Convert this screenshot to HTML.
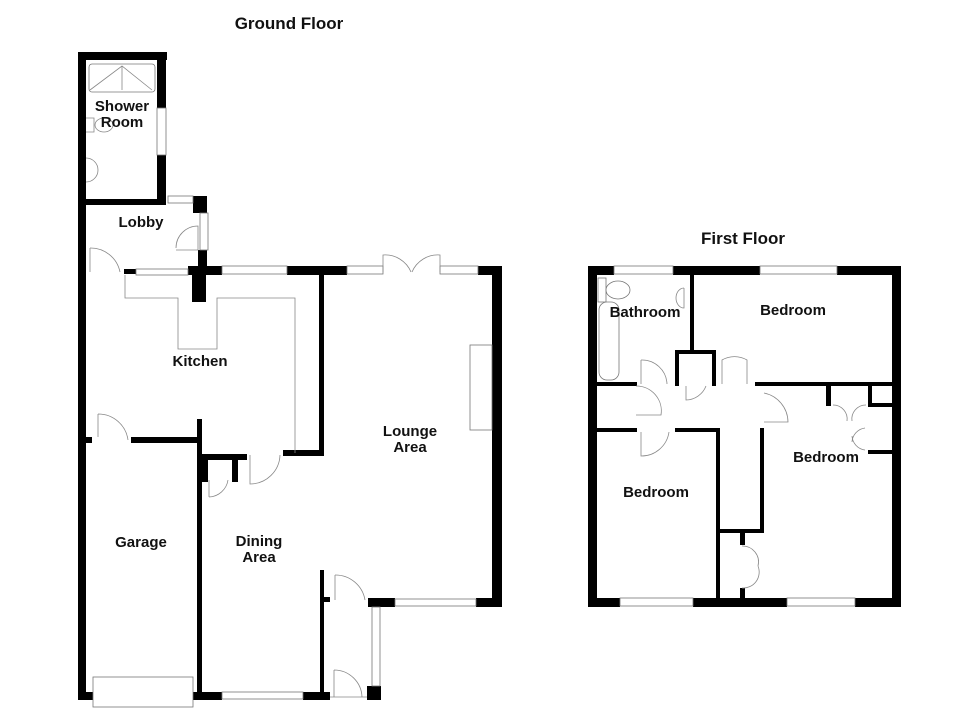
<!DOCTYPE html>
<html><head><style>
html,body{margin:0;padding:0;background:#fff;}
svg{display:block}
text{font-family:"Liberation Sans",Arial,sans-serif;font-weight:bold;fill:#111;text-anchor:middle}
</style></head><body>
<svg width="980" height="712" viewBox="0 0 980 712" xmlns="http://www.w3.org/2000/svg">
<text x="289" y="29" font-size="17">Ground Floor</text>
<text x="743" y="244" font-size="17">First Floor</text>

<g fill="#000">
<rect x="78" y="52" width="8" height="648"/>
<rect x="78" y="52" width="89" height="8"/>
<rect x="157" y="52" width="9" height="56"/>
<rect x="157" y="155" width="9" height="50"/>
<rect x="86" y="199" width="80" height="6"/>
<rect x="193" y="196" width="14" height="17"/>
<rect x="198" y="250" width="9" height="25"/>
<rect x="124" y="269" width="12" height="5"/>
<rect x="188" y="266" width="34" height="9"/>
<rect x="192" y="266" width="14" height="36"/>
<rect x="287" y="266" width="60" height="9"/>
<rect x="478" y="266" width="24" height="9"/>
<rect x="492" y="266" width="10" height="341"/>
<rect x="319" y="270" width="5" height="186"/>
<rect x="283" y="450" width="41" height="6"/>
<rect x="86" y="437" width="6" height="6"/>
<rect x="131" y="437" width="70" height="6"/>
<rect x="197" y="419" width="5" height="281"/>
<rect x="202" y="454" width="45" height="6"/>
<rect x="202" y="454" width="6" height="28"/>
<rect x="232" y="454" width="6" height="28"/>
<rect x="320" y="570" width="4" height="130"/>
<rect x="320" y="597" width="10" height="5"/>
<rect x="368" y="598" width="27" height="9"/>
<rect x="476" y="598" width="26" height="9"/>
<rect x="78" y="692" width="15" height="8"/>
<rect x="193" y="692" width="29" height="8"/>
<rect x="303" y="692" width="27" height="8"/>
<rect x="367" y="686" width="14" height="14"/>

<rect x="588" y="266" width="9" height="341"/>
<rect x="588" y="266" width="26" height="9"/>
<rect x="673" y="266" width="87" height="9"/>
<rect x="837" y="266" width="64" height="9"/>
<rect x="892" y="266" width="9" height="341"/>
<rect x="588" y="598" width="32" height="9"/>
<rect x="693" y="598" width="94" height="9"/>
<rect x="855" y="598" width="46" height="9"/>
<rect x="690" y="270" width="4" height="80"/>
<rect x="675" y="350" width="41" height="4"/>
<rect x="675" y="350" width="4" height="36"/>
<rect x="712" y="350" width="4" height="36"/>
<rect x="597" y="382" width="40" height="4"/>
<rect x="755" y="382" width="137" height="4"/>
<rect x="826" y="382" width="5" height="24"/>
<rect x="868" y="382" width="4" height="24"/>
<rect x="868" y="403" width="24" height="4"/>
<rect x="868" y="450" width="24" height="4"/>
<rect x="597" y="428" width="40" height="4"/>
<rect x="675" y="428" width="45" height="4"/>
<rect x="716" y="428" width="4" height="170"/>
<rect x="760" y="428" width="4" height="105"/>
<rect x="720" y="529" width="44" height="4"/>
<rect x="740" y="533" width="5" height="12"/>
<rect x="740" y="588" width="5" height="10"/>
</g>

<g fill="#fff" stroke="#777" stroke-width="0.8">
<rect x="157" y="108" width="9" height="47"/>
<rect x="168" y="196" width="25" height="7"/>
<rect x="136" y="269" width="52" height="6"/>
<rect x="222" y="266" width="65" height="8"/>
<rect x="347" y="266" width="36" height="8"/>
<rect x="440" y="266" width="38" height="8"/>
<rect x="395" y="599" width="81" height="7"/>
<rect x="372" y="607" width="8" height="79"/>
<rect x="222" y="692" width="81" height="7"/>
<rect x="93" y="677" width="100" height="30"/>
<rect x="614" y="266" width="59" height="8"/>
<rect x="760" y="266" width="77" height="8"/>
<rect x="620" y="598" width="73" height="8"/>
<rect x="787" y="598" width="68" height="8"/>
<rect x="200" y="213" width="8" height="37"/>
<rect x="89" y="64" width="66" height="28" rx="3"/>
<rect x="470" y="345" width="22" height="85"/>
<rect x="598" y="278" width="8" height="24"/>
<ellipse cx="618" cy="290" rx="12" ry="9"/>
<rect x="599" y="302" width="20" height="78" rx="8"/>
</g>

<g fill="none" stroke="#888" stroke-width="0.8">
<path d="M90 90 L122 66 L152 90 M122 66 V90"/>
<path d="M125 275 V298 H178 V349 H217 V298 H295 V453"/>
<ellipse cx="104" cy="125" rx="9" ry="7"/>
<path d="M86 118 h8 v14 h-8"/>
<path d="M86 158 a12 12 0 0 1 0 24"/>
<path d="M684 288 a8 10 0 0 0 0 20 v-20"/>
<path d="M90 248 V272 M90 248 A30 30 0 0 1 120 272"/>
<path d="M176 248 A22 22 0 0 1 198 226 V250 H176"/>
<path d="M98 414 V437 M98 414 A30 30 0 0 1 128 440"/>
<path d="M250 455 V484 A30 30 0 0 0 280 455"/>
<path d="M209 497 V480 M209 497 A20 20 0 0 0 228 480"/>
<path d="M335 575 V600 M335 575 A30 30 0 0 1 365 600"/>
<path d="M334 670 V697 M334 670 A28 28 0 0 1 362 697 M330 697 H367"/>
<path d="M383 272 V255 A28 28 0 0 1 411 272 M440 272 V255 A28 28 0 0 0 412 272"/>
<path d="M641 360 V384 M641 360 A25 25 0 0 1 667 384"/>
<path d="M686 386 V400 A22 22 0 0 0 706 386"/>
<path d="M722 384 V360 A25 25 0 0 1 747 360 V384"/>
<path d="M636 386 A25 25 0 0 1 661 415 H636"/>
<path d="M764 393 A30 30 0 0 1 788 422 H764"/>
<path d="M641 432 V456 A28 28 0 0 0 669 432"/>
<path d="M833 405 A14 14 0 0 1 847 421 M866 405 A14 14 0 0 0 852 421"/>
<path d="M865 428 A15 15 0 0 0 852 442 M865 450 A15 15 0 0 1 852 436"/>
<path d="M742 546 A16 16 0 0 1 758 566 M742 588 A16 16 0 0 0 758 566"/>
</g>

<g font-size="15">
<text x="122" y="111">Shower</text>
<text x="122" y="127">Room</text>
<text x="141" y="227">Lobby</text>
<text x="200" y="366">Kitchen</text>
<text x="410" y="436">Lounge</text>
<text x="410" y="452">Area</text>
<text x="141" y="547">Garage</text>
<text x="259" y="546">Dining</text>
<text x="259" y="562">Area</text>
<text x="645" y="317">Bathroom</text>
<text x="793" y="315">Bedroom</text>
<text x="826" y="462">Bedroom</text>
<text x="656" y="497">Bedroom</text>
</g>
</svg>
</body></html>
